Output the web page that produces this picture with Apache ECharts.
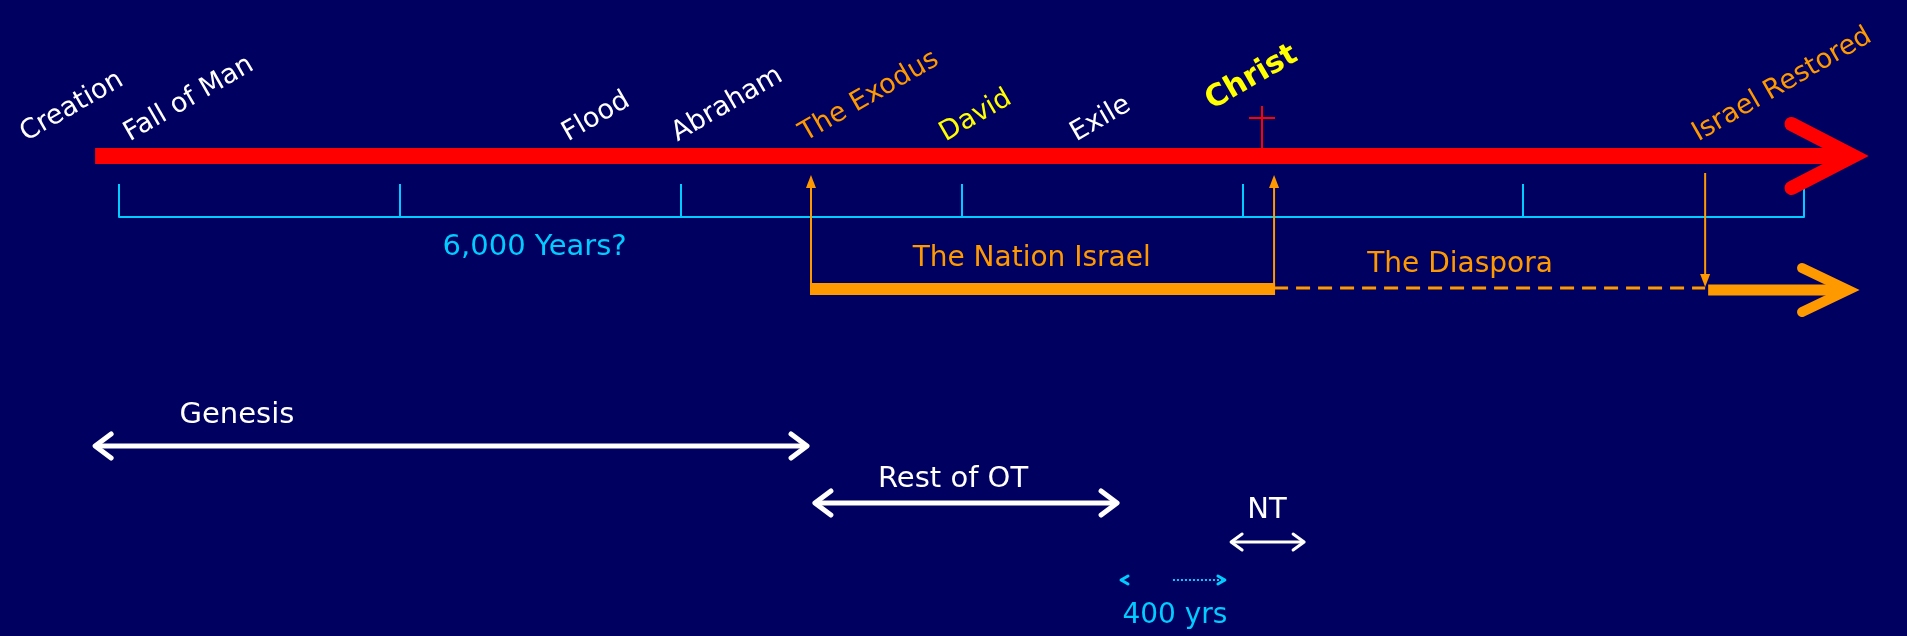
<!DOCTYPE html>
<html>
<head>
<meta charset="utf-8">
<title>Timeline</title>
<script src="https://cdn.jsdelivr.net/npm/echarts@6/dist/echarts.min.js"></script>
<style>
	html, body { margin: 0; padding: 0; background: #000060; }
	#chart { width: 1907px; height: 636px; }
</style>
</head>
<body>
<div id="chart"></div>
<script>
// ---- data (years counted from Creation) ----
const rulerRange = [0, 6000];
const rulerStep = 1000;
const rulerCaption = "6,000 Years?";
const rulerCaptionYear = 1480;

const eventNames = ["Creation", "Fall of Man", "Flood", "Abraham", "The Exodus", "David", "Exile", "Christ", "Israel Restored"];
const eventYears = [-320, 50, 1610, 2000, 2455, 2955, 3420, 3905, 5635];
const eventKinds = ["plain", "plain", "plain", "plain", "israel", "king", "plain", "christ", "israel"];

const historyRange = [-85, 6226];
const crossYear = 4070;

const nationRange = [2464, 4113];
const diasporaRange = [4113, 5648];
const restoredRange = [5648, 6196];
const periodNames = ["The Nation Israel", "The Diaspora"];
const periodLabelYears = [3250, 4775];

const bookNames = ["Genesis", "Rest of OT", "NT"];
const bookStarts = [-85, 2478, 3960];
const bookEnds = [2450, 3554, 4220];
const bookLabelYears = [420, 2970, 4088];

const gapName = "400 yrs";
const gapRange = [3568, 3938];
const gapLabelYear = 3760;

// ---- styles / layout ----
const C = { bg: "#000060", red: "#FF0000", cyan: "#00CCFF", orange: "#FF9900", yellow: "#FFFF00", white: "#FFFFFF" };
const FONT = "'DejaVu Sans'";
const kindColor = { plain: C.white, israel: C.orange, king: C.yellow, christ: C.yellow };
// vertical rows (y axis runs 0..636 top-down)
const ROW = {
	label: 147, christLabel: 116,
	bar: 156, crossTop: 106, crossArm: 118,
	rulerText: 247,
	arrowTop: 175, dropTop: 173,
	nationText: 259, diasporaText: 265,
	nation: 289,
	bookText: [415, 479, 510], book: [446, 503, 542],
	gap: 580, gapText: 616,
};
const bookLine = [5, 5, 3];
const bookHead = [[16, 12], [16, 12], [11, 8]];

function seg(a, b, style) {
	return { type: "line", shape: { x1: a[0], y1: a[1], x2: b[0], y2: b[1] }, style: style };
}
// open arrow head; dir 1 points right, -1 points left
function chevron(tip, dir, dx, dy, stroke, lw, join) {
	return {
		type: "polyline",
		shape: { points: [[tip[0] - dir * dx, tip[1] - dy], tip, [tip[0] - dir * dx, tip[1] + dy]] },
		style: { stroke: stroke, fill: null, lineWidth: lw, lineJoin: join || "round", lineCap: "round" },
	};
}
function label(str, p, color, size, extra) {
	return Object.assign({
		type: "text", x: p[0], y: p[1],
		style: { text: str, fill: color, font: size + "px " + FONT, align: "center", verticalAlign: "middle" },
	}, extra || {});
}
function upArrow(x, yBottom, yTop, color) {
	return [
		seg([x, yBottom], [x, yTop + 12], { stroke: color, lineWidth: 2 }),
		{ type: "polygon", shape: { points: [[x, yTop], [x - 5, yTop + 13], [x + 5, yTop + 13]] }, style: { fill: color } },
	];
}
function downArrow(x, yTop, yBottom, color) {
	return [
		seg([x, yTop], [x, yBottom - 12], { stroke: color, lineWidth: 2 }),
		{ type: "polygon", shape: { points: [[x, yBottom], [x - 5, yBottom - 13], [x + 5, yBottom - 13]] }, style: { fill: color } },
	];
}

const chart = echarts.init(document.getElementById("chart"), null, { renderer: "canvas" });

const option = {
	backgroundColor: C.bg,
	animation: false,
	grid: [
		{ left: 119, right: 103, top: 0, bottom: 0 },
		{ left: 119, right: 103, top: 100, height: 117 },
	],
	xAxis: [
		{ type: "value", gridIndex: 0, min: rulerRange[0], max: rulerRange[1], show: false },
		{
			type: "value", gridIndex: 1, min: rulerRange[0], max: rulerRange[1], interval: rulerStep,
			axisLine: { show: true, lineStyle: { color: C.cyan, width: 2 } },
			axisTick: { show: true, inside: true, length: 33, lineStyle: { color: C.cyan, width: 2 } },
			axisLabel: { show: false }, splitLine: { show: false },
		},
	],
	yAxis: [
		{ type: "value", gridIndex: 0, min: 0, max: 636, inverse: true, show: false },
		{ type: "value", gridIndex: 1, show: false },
	],
	series: [
		{
			// red history arrow, cross, ruler caption
			type: "custom", clip: false, z: 3,
			data: [[historyRange[0], ROW.bar]],
			renderItem: function (params, api) {
				const a = api.coord([historyRange[0], ROW.bar]);
				const b = api.coord([historyRange[1], ROW.bar]);
				const v = [b[0] - 14, b[1]];
				const cx = api.coord([crossYear, ROW.crossArm]);
				const top = api.coord([crossYear, ROW.crossTop]);
				const cap = api.coord([rulerCaptionYear, ROW.rulerText]);
				return {
					type: "group",
					children: [
						seg(a, [v[0] - 4, v[1]], { stroke: C.red, lineWidth: 16 }),
						chevron(v, 1, 62, 32, C.red, 14, "miter"),
						seg(top, [top[0], ROW.bar], { stroke: C.red, lineWidth: 2 }),
						seg([cx[0] - 13, cx[1]], [cx[0] + 13, cx[1]], { stroke: C.red, lineWidth: 2 }),
						label(rulerCaption, cap, C.cyan, 29),
					],
				};
			},
		},
		{
			// slanted event names
			type: "custom", clip: false, z: 3,
			data: eventYears.map((y) => [y, ROW.label]),
			renderItem: function (params, api) {
				const i = params.dataIndex;
				const kind = eventKinds[i];
				const p = api.coord([eventYears[i], kind === "christ" ? ROW.christLabel : ROW.label]);
				return {
					type: "text", x: p[0], y: p[1], rotation: Math.PI / 6,
					style: {
						text: eventNames[i], fill: kindColor[kind],
						font: (kind === "christ" ? "bold 30px " : "27px ") + FONT,
						align: "left", verticalAlign: "bottom",
					},
				};
			},
		},
		{
			// the nation of Israel line
			type: "custom", clip: false, z: 4,
			data: [[nationRange[0], ROW.nation]],
			renderItem: function (params, api) {
				const n0 = api.coord([nationRange[0], ROW.nation]);
				const n1 = api.coord([nationRange[1], ROW.nation]);
				const d1 = api.coord([diasporaRange[1], ROW.nation]);
				const r1 = api.coord([restoredRange[1], ROW.nation]);
				const rv = [r1[0] - 11, r1[1] + 1];
				const t0 = api.coord([periodLabelYears[0], ROW.nationText]);
				const t1 = api.coord([periodLabelYears[1], ROW.diasporaText]);
				return {
					type: "group",
					children: [
						seg([n0[0] - 1, n0[1]], [n1[0] + 1, n1[1]], { stroke: C.orange, lineWidth: 12 }),
						seg([n1[0], n1[1] - 1], [d1[0], d1[1] - 1], { stroke: C.orange, lineWidth: 3, lineDash: [14, 8] }),
						seg([d1[0] + 3, rv[1]], [rv[0] - 4, rv[1]], { stroke: C.orange, lineWidth: 11 }),
						chevron(rv, 1, 46, 22, C.orange, 10, "miter"),
					]
						.concat(upArrow(n0[0], ROW.nation, ROW.arrowTop, C.orange))
						.concat(upArrow(n1[0], ROW.nation, ROW.arrowTop, C.orange))
						.concat(downArrow(d1[0], ROW.dropTop, ROW.nation - 2, C.orange))
						.concat([
							label(periodNames[0], t0, C.orange, 28),
							label(periodNames[1], t1, C.orange, 28),
						]),
				};
			},
		},
		{
			// book spans
			type: "custom", clip: false, z: 3,
			data: bookStarts.map((s, i) => [s, ROW.book[i]]),
			renderItem: function (params, api) {
				const i = params.dataIndex;
				const a = api.coord([bookStarts[i], ROW.book[i]]);
				const b = api.coord([bookEnds[i], ROW.book[i]]);
				const t = api.coord([bookLabelYears[i], ROW.bookText[i]]);
				const h = bookHead[i];
				return {
					type: "group",
					children: [
						seg([a[0] + 2, a[1]], [b[0] - 2, b[1]], { stroke: C.white, lineWidth: bookLine[i] }),
						chevron(a, -1, h[0], h[1], C.white, bookLine[i]),
						chevron(b, 1, h[0], h[1], C.white, bookLine[i]),
						label(bookNames[i], t, C.white, 29),
					],
				};
			},
		},
		{
			// the 400 silent years
			type: "custom", clip: false, z: 3,
			data: [[gapRange[0], ROW.gap]],
			renderItem: function (params, api) {
				const a = api.coord([gapRange[0], ROW.gap]);
				const m = api.coord([(gapRange[0] + gapRange[1]) / 2, ROW.gap]);
				const b = api.coord([gapRange[1], ROW.gap]);
				const t = api.coord([gapLabelYear, ROW.gapText]);
				return {
					type: "group",
					children: [
						chevron(a, -1, 7, 4, C.cyan, 3),
						seg(m, [b[0] - 3, b[1]], { stroke: C.cyan, lineWidth: 2, lineDash: [2, 2] }),
						chevron(b, 1, 7, 4, C.cyan, 3),
						label(gapName, t, C.cyan, 28),
					],
				};
			},
		},
	],
};

chart.setOption(option);
</script>
</body>
</html>
